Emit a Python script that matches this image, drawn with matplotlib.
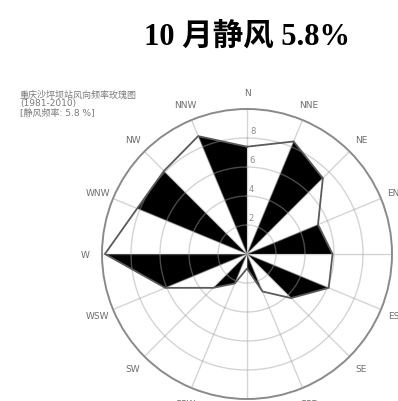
import numpy as np
import matplotlib

matplotlib.use("Agg")
import matplotlib.pyplot as plt

# wind direction frequency (%) for 16 compass points, clockwise from N
directions = ["N", "NNE", "NE", "ENE", "E", "ESE", "SE", "SSE",
              "S", "SSW", "SW", "WSW", "W", "WNW", "NW", "NNW"]
freq = [7.4, 8.4, 7.4, 5.3, 5.9, 6.1, 4.3, 2.8,
        1.0, 2.2, 3.3, 6.1, 9.8, 8.2, 8.1, 8.8]
ring_values = [2, 4, 6, 8]
r_max = 10
title_text = "10 月静风 5.8%"
note_lines = ["重庆沙坪坝站风向频率玫瑰图", "(1981-2010)", "[静风频率: 5.8 %]"]

plt.rcParams["font.family"] = ["DejaVu Sans", "Noto Sans CJK SC"]

W_PX, H_PX = 398, 402
fig = plt.figure(figsize=(W_PX / 100, H_PX / 100), dpi=100)

# polar axes: centre at (247, 255) px, outer radius 145 px
cx, cy, rad = 247, 255, 145
ax = fig.add_axes([(cx - rad) / W_PX, (H_PX - cy - rad) / H_PX,
                   2 * rad / W_PX, 2 * rad / H_PX], projection="polar")
ax.set_theta_zero_location("N")
ax.set_theta_direction(-1)
ax.set_ylim(0, r_max)
ax.grid(False)
ax.set_xticks([])
ax.set_yticks([])
ax.spines["polar"].set_color("#8a8a8a")
ax.spines["polar"].set_linewidth(1.4)
ax.patch.set_alpha(0)

n = len(directions)
theta = np.deg2rad(np.arange(n) * 360.0 / n)

# alternating black / white triangles between neighbouring directions
for i in range(n):
    j = (i + 1) % n
    t1 = theta[j] if j else 2 * np.pi
    face = "black" if i % 2 == 1 else "white"
    ax.fill([0, theta[i], t1, 0], [0, freq[i], freq[j], 0],
            facecolor=face, edgecolor="none", zorder=2)

# rose outline
ax.plot(np.append(theta, theta[0]), freq + [freq[0]],
        color="#5a5a5a", lw=1.3, zorder=4)

# grid on top of the fill, semi-transparent so it shows on black and white
tt = np.linspace(0, 2 * np.pi, 361)
for rv in ring_values:
    ax.plot(tt, np.full_like(tt, rv), color="#a0a0a0", lw=1.0, alpha=0.45, zorder=3)
    ax.text(np.deg2rad(1.5), rv + 0.55, str(rv), color="#8c8c8c", fontsize=6,
            ha="left", va="center", zorder=5)
for t in theta:
    ax.plot([t, t], [0, r_max], color="#a0a0a0", lw=1.0, alpha=0.45, zorder=3)

# compass labels (the eastern ones run off the right edge)
for t, name in zip(theta, directions):
    ax.text(t, 11.15, name, color="#6e6e6e", fontsize=6.5,
            ha="center", va="center", clip_on=False)

# small caption block top-left
for k, line in enumerate(note_lines):
    fig.text(20 / W_PX, 1 - (95 + 9 * k) / H_PX, line, color="#7a7a7a",
             fontsize=6.5, ha="left", va="center",
             family=["DejaVu Sans", "Noto Sans CJK SC"])

fig.text(247 / W_PX, 1 - 38 / H_PX, title_text, fontsize=22, fontweight="bold",
         ha="center", va="center",
         family=["Liberation Serif", "Noto Sans CJK SC"])

fig.savefig("out.png", dpi=100)
plt.close(fig)
